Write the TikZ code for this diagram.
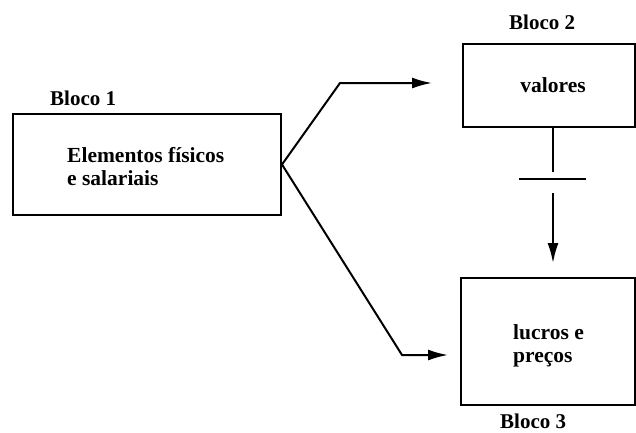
\documentclass[tikz,border=0pt]{standalone}
\usepackage{fontspec}
\setmainfont{Liberation Serif}
\usetikzlibrary{arrows.meta}
\begin{document}
\begin{tikzpicture}[x=1pt,y=-1pt,
  blk/.style={draw,line width=2pt},
  lbl/.style={font=\fontsize{21}{25}\selectfont\bfseries,inner sep=0pt},
  txt/.style={font=\fontsize{21.5}{23}\selectfont\bfseries,inner sep=0pt,align=left},
  con/.style={line width=2pt},
  arr/.style={con,-{Latex[length=20pt,width=11pt]}}]
\useasboundingbox (0,0) rectangle (636,432);
\node[blk,minimum width=268pt,minimum height=101pt,anchor=north west] (b1) at (12,113) {};
\node[blk,minimum width=172pt,minimum height=83pt,anchor=north west] (b2) at (462,43) {};
\node[blk,minimum width=174pt,minimum height=127pt,anchor=north west] (b3) at (460,277) {};
\node[lbl,anchor=west] (l1) at (50,98) {Bloco 1};
\node[lbl,anchor=west] (l2) at (509,22) {Bloco 2};
\node[lbl,anchor=west] (l3) at (500,421) {Bloco 3};
\node[txt,anchor=north west] (t1) at (67,147) {Elementos físicos\\e salariais};
\node[txt] (t2) at (553,85) {valores};
\node[txt,anchor=north west] (t3) at (513,324) {lucros e\\preços};
\coordinate (c1) at (340,83);
\coordinate (e1) at (432,83);
\coordinate (c2) at (402,355);
\coordinate (e2) at (448,355);
\coordinate (v1) at (553,172);
\coordinate (h1) at (519,179);
\coordinate (h2) at (586,179);
\coordinate (v2) at (553,193);
\draw[arr] (b1.east) -- (c1) -- (e1);
\draw[arr] (b1.east) -- (c2) -- (e2);
\draw[con] (b2.south -| v1) -- (v1);
\draw[con] (h1) -- (h2);
\draw[arr] (v2) -- (553,263) coordinate (e3);
\end{tikzpicture}
\end{document}
